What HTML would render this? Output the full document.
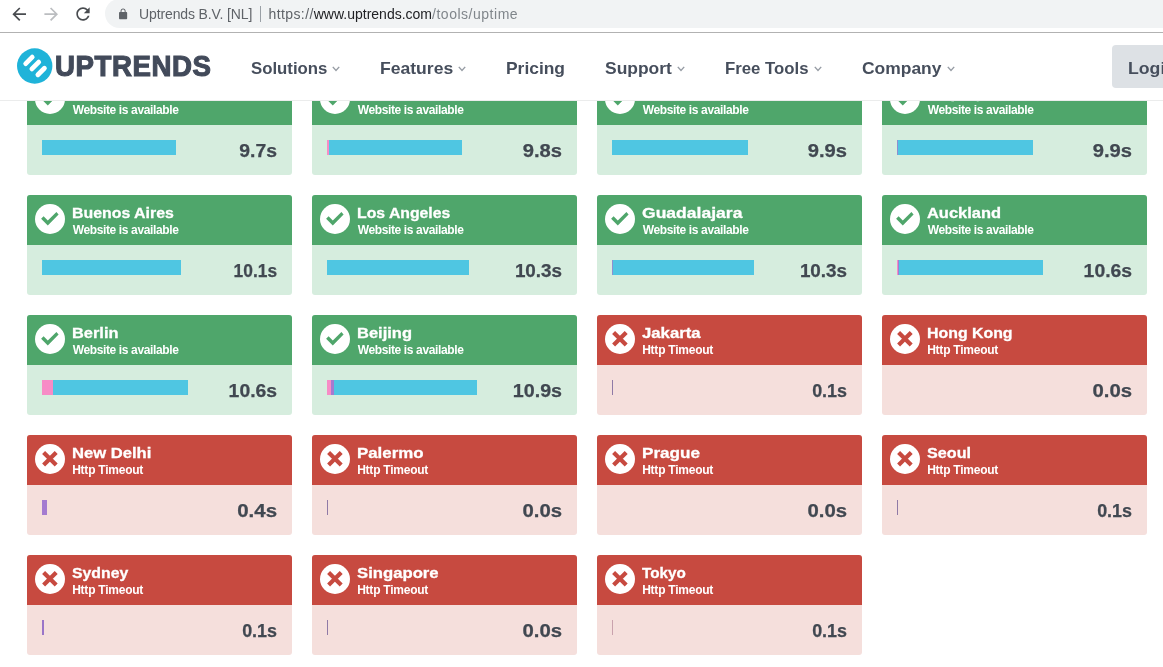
<!DOCTYPE html>
<html><head><meta charset="utf-8"><title>Uptrends</title>
<style>
*{box-sizing:border-box;margin:0;padding:0}
html,body{width:1163px;height:667px;overflow:hidden;background:#fff;font-family:"Liberation Sans",sans-serif}
#chrome{position:absolute;left:0;top:0;width:1163px;height:32px;background:#fff;overflow:hidden}
#pill{position:absolute;left:105px;top:-1px;width:1100px;height:28.5px;border-radius:14.5px;background:#f1f3f4}
#line{position:absolute;left:0;top:32px;width:1163px;height:1px;background:#b2b2b2}
.u{position:absolute;top:5.3px;font-size:14px;line-height:18px;white-space:nowrap;color:#5f6368}
.bi{position:absolute}
#sep{position:absolute;left:259.5px;top:6px;width:1px;height:15.5px;background:#9aa0a6}
#hdr{position:absolute;left:0;top:33px;width:1163px;height:68px;background:#fff;border-bottom:1px solid #ebecec;z-index:5;overflow:hidden}
.nav{position:absolute;top:24.7px;font-size:17px;line-height:22px;font-weight:bold;color:#464e5c;white-space:nowrap;transform-origin:0 50%}
.chev{position:absolute;top:32.8px;width:10px;height:6px}
#logo{position:absolute;left:54.9px;top:14.9px;font-size:29px;line-height:36px;font-weight:bold;color:#424a5a;-webkit-text-stroke:1.1px #424a5a;letter-spacing:.6px;white-space:nowrap;transform-origin:0 50%;transform:scaleX(.953)}
#mark{position:absolute;left:16.5px;top:14.7px;width:36px;height:36px}
#login{position:absolute;left:1112px;top:12px;width:80px;height:43px;border-radius:4px;background:#dde1e5}
.card{position:absolute;width:265px;height:100px;border-radius:3px;overflow:hidden}
.card .h{position:absolute;left:0;top:0;width:265px;height:50px}
.ok{background:#d6edde}.ok .h{background:#4fa66b}
.bad{background:#f5dfdc}.bad .h{background:#c74a40}
.t{position:absolute;left:45.3px;top:8.6px;font-size:15px;line-height:18px;font-weight:bold;color:#fff;-webkit-text-stroke:.3px #fff;white-space:nowrap;transform-origin:0 50%}
.s{position:absolute;left:46px;top:28px;font-size:12px;line-height:14px;font-weight:bold;color:#fff;white-space:nowrap}
.sa{letter-spacing:-.37px;left:45.7px}.sb{letter-spacing:-.24px;left:45.2px}
.ic{position:absolute;left:8px;top:9px;width:30px;height:30px}
.bar{position:absolute;left:15px;top:65px;height:15px;background:#4fc6e2}
.bar i{position:absolute;top:0;height:15px;display:block}
.v{position:absolute;right:14.6px;top:65px;font-size:18px;line-height:22px;font-weight:bold;color:#414851;-webkit-text-stroke:.25px #414851;white-space:nowrap;transform-origin:100% 50%}
</style></head><body>
<div id="chrome"><div id="pill"></div>
<svg class="bi" style="left:8.5px;top:3.7px" width="20.4" height="20.4" viewBox="0 0 24 24"><path d="M20 11H7.83l5.59-5.59L12 4l-8 8 8 8 1.41-1.41L7.83 13H20v-2z" fill="#494c50"/></svg>
<svg class="bi" style="left:40.5px;top:3.7px" width="20.4" height="20.4" viewBox="0 0 24 24"><path d="M12 4l-1.41 1.41L16.17 11H4v2h12.17l-5.58 5.59L12 20l8-8z" fill="#bbbdc0"/></svg>
<svg class="bi" style="left:73.1px;top:3.75px" width="20" height="20" viewBox="0 0 24 24"><path d="M17.65 6.35C16.2 4.9 14.21 4 12 4c-4.42 0-7.99 3.58-7.99 8s3.57 8 7.99 8c3.73 0 6.84-2.55 7.73-6h-2.08c-.82 2.33-3.04 4-5.65 4-3.31 0-6-2.690-6-6s2.690-6 6-6c1.660 0 3.140.69 4.220 1.780L13 11h7V4l-2.350 2.350z" fill="#494c50"/></svg>
<svg class="bi" style="left:117px;top:8.1px" width="12.2" height="12.2" viewBox="0 0 24 24"><path d="M18 8h-1V6c0-2.760-2.240-5-5-5S7 3.240 7 6v2H6c-1.100 0-2 .9-2 2v10c0 1.100.9 2 2 2h12c1.100 0 2-.9 2-2V10c0-1.100-.9-2-2-2zm-2.900 0H8.900V6c0-1.710 1.390-3.100 3.100-3.100 1.710 0 3.100 1.390 3.100 3.100v2z" fill="#5f6368"/></svg>
<span class="u" style="left:139px;letter-spacing:-.12px">Uptrends B.V. [NL]</span>
<div id="sep"></div>
<span class="u" style="left:268.5px"><span style="letter-spacing:.4px">https://</span><span style="color:#202124">www.uptrends.com</span><span style="color:#80868b;letter-spacing:.52px">/tools/uptime</span></span>
</div><div id="line"></div>
<div id="hdr">
<svg id="mark" viewBox="-18 -18 36 36"><circle cx="-0.3" cy="0" r="17.7" fill="#1fb3d9"/><g stroke="#fff" stroke-width="4.8" stroke-linecap="round"><path d="M-9.300 -2.400 L-2.800 -8.900"/><path d="M-3.100 2.900 L3.700 -3.900"/><path d="M2.900 8.800 L9.400 2.300"/></g></svg>
<div id="logo">UPTRENDS</div>
<span class="nav" style="left:250.74px;transform:scaleX(0.987)">Solutions</span><svg class="chev" style="left:331.45px" viewBox="0 0 10 6"><path d="M1.800 0.9 L5 4.500 L8.200 0.9" fill="none" stroke="#969ca4" stroke-width="1.4"/></svg>
<span class="nav" style="left:380.12px;transform:scaleX(1.033)">Features</span><svg class="chev" style="left:456.50px" viewBox="0 0 10 6"><path d="M1.800 0.9 L5 4.500 L8.200 0.9" fill="none" stroke="#969ca4" stroke-width="1.4"/></svg>
<span class="nav" style="left:506.35px;transform:scaleX(1.024)">Pricing</span>
<span class="nav" style="left:604.85px;transform:scaleX(1.026)">Support</span><svg class="chev" style="left:676.15px" viewBox="0 0 10 6"><path d="M1.800 0.9 L5 4.500 L8.200 0.9" fill="none" stroke="#969ca4" stroke-width="1.4"/></svg>
<span class="nav" style="left:725.08px;transform:scaleX(0.986)">Free Tools</span><svg class="chev" style="left:813.45px" viewBox="0 0 10 6"><path d="M1.800 0.9 L5 4.500 L8.200 0.9" fill="none" stroke="#969ca4" stroke-width="1.4"/></svg>
<span class="nav" style="left:861.55px;transform:scaleX(1.026)">Company</span><svg class="chev" style="left:945.85px" viewBox="0 0 10 6"><path d="M1.800 0.9 L5 4.500 L8.200 0.9" fill="none" stroke="#969ca4" stroke-width="1.4"/></svg>
<div id="login"><span class="nav" style="left:16.2px;top:12.7px;transform:scaleX(1.04)">Login</span></div>
</div>
<div id="cards">
<div class="card ok" style="left:27px;top:75px"><div class="h"><svg class="ic" viewBox="0 0 30 30"><circle cx="15" cy="15" r="15" fill="#fff"/><path d="M8.6 12.2 L6.1 14.8 L12.8 21.4 L23.6 10.6 L21.4 8.1 L12.8 16.6 Z" fill="#4fa66b"/></svg><div class="t" style="transform:scaleX(1.080)">Amsterdam</div><div class="s sa">Website is available</div></div><div class="bar" style="width:134px;background:#4fc6e2"></div><div class="v" style="transform:scaleX(1.076)">9.7s</div></div>
<div class="card ok" style="left:312px;top:75px"><div class="h"><svg class="ic" viewBox="0 0 30 30"><circle cx="15" cy="15" r="15" fill="#fff"/><path d="M8.6 12.2 L6.1 14.8 L12.8 21.4 L23.6 10.6 L21.4 8.1 L12.8 16.6 Z" fill="#4fa66b"/></svg><div class="t" style="transform:scaleX(1.080)">New York</div><div class="s sa">Website is available</div></div><div class="bar" style="width:135px;background:#4fc6e2"><i style="left:0px;width:1.5px;background:#f78cc6"></i></div><div class="v" style="transform:scaleX(1.120)">9.8s</div></div>
<div class="card ok" style="left:597px;top:75px"><div class="h"><svg class="ic" viewBox="0 0 30 30"><circle cx="15" cy="15" r="15" fill="#fff"/><path d="M8.6 12.2 L6.1 14.8 L12.8 21.4 L23.6 10.6 L21.4 8.1 L12.8 16.6 Z" fill="#4fa66b"/></svg><div class="t" style="transform:scaleX(1.080)">London</div><div class="s sa">Website is available</div></div><div class="bar" style="width:136px;background:#4fc6e2"></div><div class="v" style="transform:scaleX(1.120)">9.9s</div></div>
<div class="card ok" style="left:882px;top:75px"><div class="h"><svg class="ic" viewBox="0 0 30 30"><circle cx="15" cy="15" r="15" fill="#fff"/><path d="M8.6 12.2 L6.1 14.8 L12.8 21.4 L23.6 10.6 L21.4 8.1 L12.8 16.6 Z" fill="#4fa66b"/></svg><div class="t" style="transform:scaleX(1.080)">Leipzig</div><div class="s sa">Website is available</div></div><div class="bar" style="width:136px;background:#4fc6e2"><i style="left:0px;width:1px;background:#8f8fd0"></i></div><div class="v" style="transform:scaleX(1.120)">9.9s</div></div>
<div class="card ok" style="left:27px;top:195px"><div class="h"><svg class="ic" viewBox="0 0 30 30"><circle cx="15" cy="15" r="15" fill="#fff"/><path d="M8.6 12.2 L6.1 14.8 L12.8 21.4 L23.6 10.6 L21.4 8.1 L12.8 16.6 Z" fill="#4fa66b"/></svg><div class="t" style="transform:scaleX(1.059)">Buenos Aires</div><div class="s sa">Website is available</div></div><div class="bar" style="width:139px;background:#4fc6e2"></div><div class="v" style="transform:scaleX(0.964)">10.1s</div></div>
<div class="card ok" style="left:312px;top:195px"><div class="h"><svg class="ic" viewBox="0 0 30 30"><circle cx="15" cy="15" r="15" fill="#fff"/><path d="M8.6 12.2 L6.1 14.8 L12.8 21.4 L23.6 10.6 L21.4 8.1 L12.8 16.6 Z" fill="#4fa66b"/></svg><div class="t" style="transform:scaleX(1.053)">Los Angeles</div><div class="s sa">Website is available</div></div><div class="bar" style="width:142px;background:#4fc6e2"></div><div class="v" style="transform:scaleX(1.047)">10.3s</div></div>
<div class="card ok" style="left:597px;top:195px"><div class="h"><svg class="ic" viewBox="0 0 30 30"><circle cx="15" cy="15" r="15" fill="#fff"/><path d="M8.6 12.2 L6.1 14.8 L12.8 21.4 L23.6 10.6 L21.4 8.1 L12.8 16.6 Z" fill="#4fa66b"/></svg><div class="t" style="transform:scaleX(1.169)">Guadalajara</div><div class="s sa">Website is available</div></div><div class="bar" style="width:142px;background:#4fc6e2"><i style="left:0px;width:1px;background:#8f8fd0"></i></div><div class="v" style="transform:scaleX(1.047)">10.3s</div></div>
<div class="card ok" style="left:882px;top:195px"><div class="h"><svg class="ic" viewBox="0 0 30 30"><circle cx="15" cy="15" r="15" fill="#fff"/><path d="M8.6 12.2 L6.1 14.8 L12.8 21.4 L23.6 10.6 L21.4 8.1 L12.8 16.6 Z" fill="#4fa66b"/></svg><div class="t" style="transform:scaleX(1.096)">Auckland</div><div class="s sa">Website is available</div></div><div class="bar" style="width:146px;background:#4fc6e2"><i style="left:0px;width:1px;background:#f78cc6"></i><i style="left:1px;width:1px;background:#a47bd0"></i></div><div class="v" style="transform:scaleX(1.075)">10.6s</div></div>
<div class="card ok" style="left:27px;top:315px"><div class="h"><svg class="ic" viewBox="0 0 30 30"><circle cx="15" cy="15" r="15" fill="#fff"/><path d="M8.6 12.2 L6.1 14.8 L12.8 21.4 L23.6 10.6 L21.4 8.1 L12.8 16.6 Z" fill="#4fa66b"/></svg><div class="t" style="transform:scaleX(1.093)">Berlin</div><div class="s sa">Website is available</div></div><div class="bar" style="width:146px;background:#4fc6e2"><i style="left:0px;width:11px;background:#f78cc6"></i></div><div class="v" style="transform:scaleX(1.075)">10.6s</div></div>
<div class="card ok" style="left:312px;top:315px"><div class="h"><svg class="ic" viewBox="0 0 30 30"><circle cx="15" cy="15" r="15" fill="#fff"/><path d="M8.6 12.2 L6.1 14.8 L12.8 21.4 L23.6 10.6 L21.4 8.1 L12.8 16.6 Z" fill="#4fa66b"/></svg><div class="t" style="transform:scaleX(1.099)">Beijing</div><div class="s sa">Website is available</div></div><div class="bar" style="width:150px;background:#4fc6e2"><i style="left:0px;width:4px;background:#f78cc6"></i><i style="left:4px;width:3px;background:#a47bd0"></i></div><div class="v" style="transform:scaleX(1.093)">10.9s</div></div>
<div class="card bad" style="left:597px;top:315px"><div class="h"><svg class="ic" viewBox="0 0 30 30"><circle cx="15" cy="15" r="15" fill="#fff"/><path d="M8.6 8.5 L21.2 21.1 M21.2 8.5 L8.6 21.1" stroke="#c74a40" stroke-width="4.2" fill="none"/></svg><div class="t" style="transform:scaleX(1.115)">Jakarta</div><div class="s sb">Http Timeout</div></div><div class="bar" style="width:1px;background:transparent"><i style="left:0px;width:1px;background:#8f7aa6"></i></div><div class="v" style="transform:scaleX(0.996)">0.1s</div></div>
<div class="card bad" style="left:882px;top:315px"><div class="h"><svg class="ic" viewBox="0 0 30 30"><circle cx="15" cy="15" r="15" fill="#fff"/><path d="M8.6 8.5 L21.2 21.1 M21.2 8.5 L8.6 21.1" stroke="#c74a40" stroke-width="4.2" fill="none"/></svg><div class="t" style="transform:scaleX(1.059)">Hong Kong</div><div class="s sb">Http Timeout</div></div><div class="v" style="transform:scaleX(1.128)">0.0s</div></div>
<div class="card bad" style="left:27px;top:435px"><div class="h"><svg class="ic" viewBox="0 0 30 30"><circle cx="15" cy="15" r="15" fill="#fff"/><path d="M8.6 8.5 L21.2 21.1 M21.2 8.5 L8.6 21.1" stroke="#c74a40" stroke-width="4.2" fill="none"/></svg><div class="t" style="transform:scaleX(1.107)">New Delhi</div><div class="s sb">Http Timeout</div></div><div class="bar" style="width:4.6px;background:transparent"><i style="left:0px;width:4.6px;background:#a47bd0"></i></div><div class="v" style="transform:scaleX(1.137)">0.4s</div></div>
<div class="card bad" style="left:312px;top:435px"><div class="h"><svg class="ic" viewBox="0 0 30 30"><circle cx="15" cy="15" r="15" fill="#fff"/><path d="M8.6 8.5 L21.2 21.1 M21.2 8.5 L8.6 21.1" stroke="#c74a40" stroke-width="4.2" fill="none"/></svg><div class="t" style="transform:scaleX(1.124)">Palermo</div><div class="s sb">Http Timeout</div></div><div class="bar" style="width:1px;background:transparent"><i style="left:0px;width:1px;background:#8f7aa6"></i></div><div class="v" style="transform:scaleX(1.128)">0.0s</div></div>
<div class="card bad" style="left:597px;top:435px"><div class="h"><svg class="ic" viewBox="0 0 30 30"><circle cx="15" cy="15" r="15" fill="#fff"/><path d="M8.6 8.5 L21.2 21.1 M21.2 8.5 L8.6 21.1" stroke="#c74a40" stroke-width="4.2" fill="none"/></svg><div class="t" style="transform:scaleX(1.141)">Prague</div><div class="s sb">Http Timeout</div></div><div class="v" style="transform:scaleX(1.128)">0.0s</div></div>
<div class="card bad" style="left:882px;top:435px"><div class="h"><svg class="ic" viewBox="0 0 30 30"><circle cx="15" cy="15" r="15" fill="#fff"/><path d="M8.6 8.5 L21.2 21.1 M21.2 8.5 L8.6 21.1" stroke="#c74a40" stroke-width="4.2" fill="none"/></svg><div class="t" style="transform:scaleX(1.077)">Seoul</div><div class="s sb">Http Timeout</div></div><div class="bar" style="width:1px;background:transparent"><i style="left:0px;width:1px;background:#8f7aa6"></i></div><div class="v" style="transform:scaleX(0.996)">0.1s</div></div>
<div class="card bad" style="left:27px;top:555px"><div class="h"><svg class="ic" viewBox="0 0 30 30"><circle cx="15" cy="15" r="15" fill="#fff"/><path d="M8.6 8.5 L21.2 21.1 M21.2 8.5 L8.6 21.1" stroke="#c74a40" stroke-width="4.2" fill="none"/></svg><div class="t" style="transform:scaleX(1.054)">Sydney</div><div class="s sb">Http Timeout</div></div><div class="bar" style="width:2px;background:transparent"><i style="left:0px;width:2px;background:#9a75c8"></i></div><div class="v" style="transform:scaleX(0.996)">0.1s</div></div>
<div class="card bad" style="left:312px;top:555px"><div class="h"><svg class="ic" viewBox="0 0 30 30"><circle cx="15" cy="15" r="15" fill="#fff"/><path d="M8.6 8.5 L21.2 21.1 M21.2 8.5 L8.6 21.1" stroke="#c74a40" stroke-width="4.2" fill="none"/></svg><div class="t" style="transform:scaleX(1.113)">Singapore</div><div class="s sb">Http Timeout</div></div><div class="bar" style="width:1px;background:transparent"><i style="left:0px;width:1px;background:#8f7aa6"></i></div><div class="v" style="transform:scaleX(1.128)">0.0s</div></div>
<div class="card bad" style="left:597px;top:555px"><div class="h"><svg class="ic" viewBox="0 0 30 30"><circle cx="15" cy="15" r="15" fill="#fff"/><path d="M8.6 8.5 L21.2 21.1 M21.2 8.5 L8.6 21.1" stroke="#c74a40" stroke-width="4.2" fill="none"/></svg><div class="t" style="transform:scaleX(1.017)">Tokyo</div><div class="s sb">Http Timeout</div></div><div class="bar" style="width:1px;background:transparent"><i style="left:0px;width:1px;background:#c9a2ad"></i></div><div class="v" style="transform:scaleX(0.996)">0.1s</div></div>
</div>
</body></html>
